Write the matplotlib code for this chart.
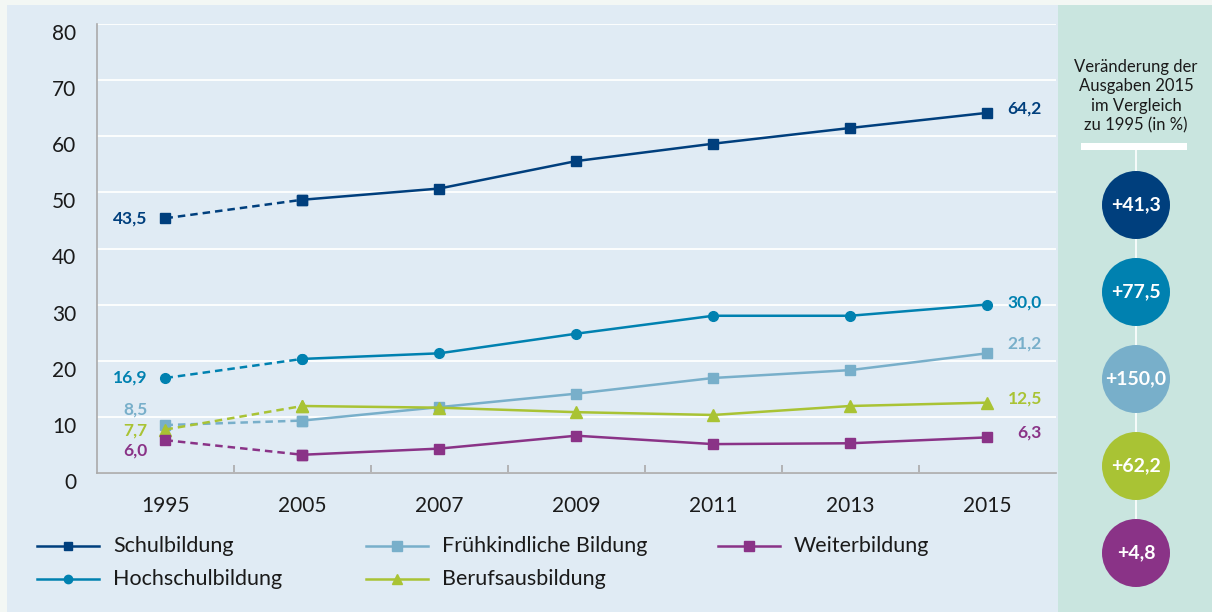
import matplotlib.pyplot as plt
from matplotlib.lines import Line2D
from matplotlib.patches import Rectangle, Circle

plt.rcParams['font.family'] = ['Lato', 'DejaVu Sans']

# data
years = ['1995', '2005', '2007', '2009', '2011', '2013', '2015']
schul = [45.4, 48.7, 50.7, 55.6, 58.7, 61.5, 64.2]
hochschul = [16.9, 20.3, 21.3, 24.8, 28.0, 28.0, 30.0]
fruehkind = [8.5, 9.3, 11.7, 14.1, 16.9, 18.3, 21.3]
beruf = [7.7, 11.9, 11.6, 10.8, 10.3, 11.9, 12.5]
weiter = [5.8, 3.2, 4.3, 6.6, 5.1, 5.25, 6.3]

names = ['Schulbildung', 'Hochschulbildung', 'Frühkindliche Bildung', 'Berufsausbildung', 'Weiterbildung']
start_labels = ['43,5', '16,9', '8,5', '7,7', '6,0']
end_labels = ['64,2', '30,0', '21,2', '12,5', '6,3']
changes = ['+41,3', '+77,5', '+150,0', '+62,2', '+4,8']

colors = ['#003f7d', '#0081b0', '#78afca', '#a9c334', '#8a3387']
markers = ['s', 'o', 's', '^', 's']
msizes = [7, 7, 7.5, 8, 7.5]
series = [schul, hochschul, fruehkind, beruf, weiter]

fig = plt.figure(figsize=(12.12, 6.12), dpi=100)
fig.patch.set_facecolor('#f3f7f4')

# background overlay in pixel coords
bg = fig.add_axes([0, 0, 1, 1], zorder=0)
bg.set_xlim(0, 1212)
bg.set_ylim(612, 0)
bg.axis('off')
bg.add_patch(Rectangle((7, 5), 1051, 607, color='#e0ebf4', lw=0))
bg.add_patch(Rectangle((1058, 5), 154, 607, color='#c9e5df', lw=0))

ax = fig.add_axes([97 / 1212, (612 - 472.7) / 612, (1055.5 - 97) / 1212, (472.7 - 24.3) / 612], zorder=1)
ax.set_facecolor('none')
x = list(range(len(years)))

for s, c, m, ms in zip(series, colors, markers, msizes):
    ax.plot(x[:2], s[:2], color=c, lw=1.8, ls=(0, (3, 2)), marker=m, ms=ms, zorder=3)
    ax.plot(x[1:], s[1:], color=c, lw=1.8, marker=m, ms=ms, zorder=3)

# value labels
start_y = [45.4, 16.9, 11.2, 7.5, 4.0]
end_y = [65.0, 30.4, 23.1, 13.3, 7.1]
for lab, yy, c in zip(start_labels, start_y, colors):
    ax.text(-0.13, yy, lab, color=c, fontsize=12.5, fontweight='bold', ha='right', va='center')
for lab, yy, c in zip(end_labels, end_y, colors):
    ax.text(6.4, yy, lab, color=c, fontsize=12.5, fontweight='bold', ha='right', va='center')

ax.set_xlim(-0.5, 6.5)
ax.set_ylim(0, 80)
ax.set_yticks(range(0, 81, 10))
ax.set_xticks(x)
ax.set_xticklabels(years)
ax.set_xticks([i + 0.5 for i in range(6)], minor=True)
ax.tick_params(axis='x', which='major', length=0, pad=17, labelsize=15, labelcolor='#1a1a1a')
ax.tick_params(axis='x', which='minor', direction='in', length=6, color='#aaaaaa', width=1.2)
ax.tick_params(axis='y', length=0, pad=15, labelsize=15, labelcolor='#1a1a1a')
for lbl in ax.get_yticklabels():
    lbl.set_verticalalignment('top')
ax.grid(axis='y', color='white', lw=1.3)
ax.set_axisbelow(True)
for sp in ['top', 'right']:
    ax.spines[sp].set_visible(False)
for sp in ['left', 'bottom']:
    ax.spines[sp].set_color('#aaaaaa')
    ax.spines[sp].set_linewidth(1.2)

# legend drawn in pixel coords
leg_pos = [(37, 546), (37, 579), (366, 546), (366, 579), (718, 546)]
for (lx, ly), n, c, m, ms in zip(leg_pos, names, colors, markers, msizes):
    bg.add_line(Line2D([lx, lx + 62], [ly, ly], color=c, lw=1.8))
    bg.plot([lx + 31], [ly], marker=m, color=c, ms=ms - 1)
    bg.text(lx + 76, ly, n, fontsize=15.5, va='center', ha='left', color='#1a1a1a')

# right panel
cx = 1136
bg.text(cx, 96, 'Veränderung der\nAusgaben 2015\nim Vergleich\nzu 1995 (in %)',
        ha='center', va='center', fontsize=12, color='#1a1a1a', linespacing=1.25)
bg.add_patch(Rectangle((1081, 143), 106, 7, color='white', lw=0))
cys = [205, 292, 379, 466, 553]
bg.add_line(Line2D([cx, cx], [150, cys[-1]], color='white', lw=1.2, zorder=1))
for cy, c, t in zip(cys, colors, changes):
    bg.add_patch(Circle((cx, cy), 34, color=c, lw=0, zorder=2))
    bg.text(cx, cy, t, ha='center', va='center', color='white', fontsize=14,
            fontweight='bold', zorder=3)

fig.savefig('out.png', dpi=100, facecolor=fig.get_facecolor())
